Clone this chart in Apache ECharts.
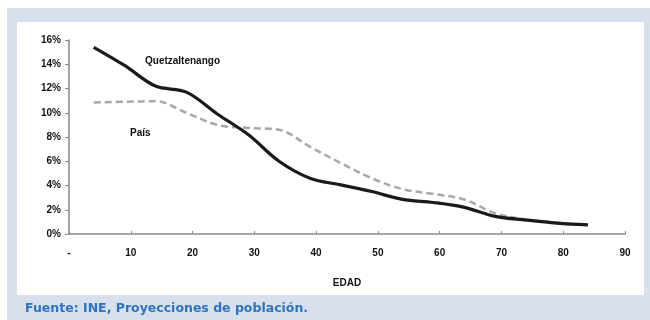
<!DOCTYPE html>
<html><head><meta charset="utf-8">
<script src="https://cdn.jsdelivr.net/npm/echarts@6/dist/echarts.min.js"></script>
<style>html,body{margin:0;padding:0;background:#fff;}#c{width:650px;height:320px;}</style>
</head><body><div id="c"></div>
<script>
var ages = [4, 9, 14, 19, 24, 29, 34, 39, 44, 49, 54, 59, 64, 69, 74, 79, 84];
var quetzaltenango = [15.4, 13.9, 12.2, 11.7, 9.9, 8.2, 6.0, 4.6, 4.05, 3.5, 2.85, 2.6, 2.2, 1.45, 1.15, 0.9, 0.75];
var pais = [10.85, 10.9, 10.95, 10.0, 9.0, 8.75, 8.6, 7.2, 5.85, 4.6, 3.7, 3.3, 2.85, 1.7, 1.2, 0.93, 0.75];
var yTicks = ['0%', '2%', '4%', '6%', '8%', '10%', '12%', '14%', '16%'];
var xTicks = ['-', '10', '20', '30', '40', '50', '60', '70', '80', '90'];
var labelQ = 'Quetzaltenango', labelP = 'País';
var source = 'Fuente: INE, Proyecciones de población.';

function pairs(xs, ys){ return xs.map(function(x,i){ return [x, ys[i]]; }); }

var chart = echarts.init(document.getElementById('c'), null, {renderer:'canvas'});
chart.setOption({
  animation: false,
  backgroundColor: '#ffffff',
  graphic: [
    {type:'rect', z:-10, shape:{x:7, y:8, width:643, height:312}, style:{fill:'#d7e0ec'}},
    {type:'rect', z:-9, shape:{x:17, y:22, width:627, height:273}, style:{fill:'#ffffff'}},
    {type:'text', left:25, top:302, style:{text:source, fill:'#2d74c0', font:'bold 12.5px "DejaVu Sans"'}},
    {type:'text', left:145, top:56, style:{text:labelQ, fill:'#111', font:'bold 10px "Liberation Sans Narrow", "Liberation Sans", Arial'}},
    {type:'text', left:130, top:128, style:{text:labelP, fill:'#111', font:'bold 10px "Liberation Sans Narrow", "Liberation Sans", Arial'}}
  ],
  grid: {left:69, right:25, top:40, bottom:86, containLabel:false},
  xAxis: {
    type:'value', min:0, max:90, interval:10,
    name:'EDAD', nameLocation:'middle', nameGap:44,
    nameTextStyle:{color:'#111', fontSize:10, fontWeight:'bold', fontFamily:'"Liberation Sans Narrow", "Liberation Sans", Arial'},
    axisLine:{show:true, lineStyle:{color:'#888', width:1.5}},
    axisTick:{show:true, inside:true, length:3, lineStyle:{color:'#888'}},
    axisLabel:{color:'#111', fontSize:10, fontWeight:'bold', margin:14, fontFamily:'"Liberation Sans Narrow", "Liberation Sans", Arial',
      formatter:function(v){ return xTicks[Math.round(v/10)]; }},
    splitLine:{show:false}
  },
  yAxis: {
    type:'value', min:0, max:16, interval:2,
    axisLine:{show:true, lineStyle:{color:'#888', width:1.5}},
    axisTick:{show:true, length:4, lineStyle:{color:'#888'}},
    axisLabel:{color:'#111', fontSize:10, fontWeight:'bold', margin:8, fontFamily:'"Liberation Sans Narrow", "Liberation Sans", Arial',
      formatter:function(v){ return yTicks[Math.round(v/2)]; }},
    splitLine:{show:false}
  },
  series: [
    {type:'line', name:'País', data:pairs(ages, pais), smooth:0.35, symbol:'none',
      lineStyle:{color:'#a8a8a8', width:2.5, type:[7,4]}},
    {type:'line', name:'Quetzaltenango', data:pairs(ages, quetzaltenango), smooth:0.35, symbol:'none',
      lineStyle:{color:'#1a1a1a', width:3.2}}
  ]
});
</script></body></html>
